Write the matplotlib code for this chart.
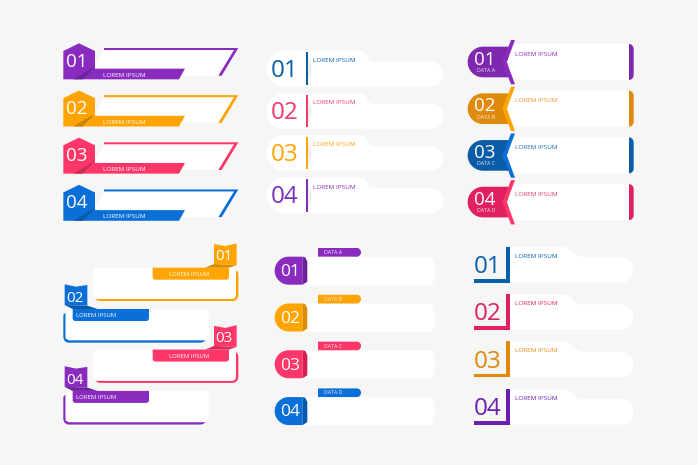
import matplotlib
matplotlib.use('Agg')
import matplotlib.pyplot as plt
from matplotlib.path import Path
from matplotlib.patches import PathPatch

plt.rcParams['font.family'] = ['Open Sans', 'DejaVu Sans']

# dane
numery = ['01', '02', '03', '04']
napis = 'LOREM IPSUM'
dane = ['DATA A', 'DATA B', 'DATA C', 'DATA D']

kolory1 = ['#8A2BC0', '#FFA400', '#FF3768', '#0A70D8']
cienie1 = ['#6C2299', '#CC8300', '#CC2C53', '#0859AC']
kolory2 = ['#0A5FA8', '#F5386B', '#FFA400', '#7B2FBE']
kolory3a = ['#7D28AE', '#E08A0B', '#0A5CA6', '#E0205F']
kolory3b = ['#8A2BC0', '#FFA400', '#0A70D8', '#FF3768']
napisy3 = ['#8A2BC0', '#E8952A', '#1F6CB0', '#E8346E']
kolory4 = ['#FFA400', '#0A70D8', '#FF3768', '#8A2BC0']
cienie4 = ['#D98C00', '#0859AC', '#D92C58', '#6C2299']
kolory5 = ['#8A2BC0', '#FFA400', '#FF3768', '#0A70D8']
cienie5 = ['#6C2299', '#D98C00', '#D4204F', '#0859AC']
kolory6 = ['#0A5FA8', '#E0205F', '#E08A0B', '#6A1FB0']

fig = plt.figure(figsize=(6.98, 4.65), dpi=100, facecolor='#F6F6F6')
ax = fig.add_axes([0, 0, 1, 1])
ax.set_xlim(0, 698)
ax.set_ylim(465, 0)
ax.axis('off')


# ksztalt ze wspolrzednych z powiekszenia (3x), krok z 4 liczbami to luk
def ksztalt(ox, oy, kroki, kolor, z=2):
    verts, codes = [], []
    for k in kroki:
        pts = [(ox + k[i] / 3, oy + k[i + 1] / 3) for i in range(0, len(k), 2)]
        if not verts:
            codes.append(Path.MOVETO)
            verts += pts
        elif len(pts) == 2:
            p0, c, p1 = verts[-1], pts[0], pts[1]
            verts.append((p0[0] + 0.55 * (c[0] - p0[0]), p0[1] + 0.55 * (c[1] - p0[1])))
            verts.append((p1[0] + 0.55 * (c[0] - p1[0]), p1[1] + 0.55 * (c[1] - p1[1])))
            verts.append(p1)
            codes += [Path.CURVE4] * 3
        else:
            codes.append(Path.LINETO)
            verts += pts
    verts.append(verts[0])
    codes.append(Path.CLOSEPOLY)
    ax.add_patch(PathPatch(Path(verts, codes), fc=kolor, ec='none', zorder=z))


def tekst(ox, oy, x, y, s, rozmiar, kolor, ha='center', z=6):
    ax.text(ox + x / 3, oy + y / 3, s, fontsize=rozmiar, color=kolor, ha=ha,
            va='center_baseline', zorder=z)


# panel 1 - szesciokaty
for i in range(4):
    ox, oy = 50, 35 + i * 47.15
    ksztalt(ox, oy, [(165, 45), (552, 45), (505, 122), (395, 122), (405, 101), (130, 101)], 'white')
    ksztalt(ox, oy, [(162, 39), (565, 39), (515, 122), (505, 122), (552, 45), (162, 45)], kolory1[i])
    ksztalt(ox, oy, [(40, 48), (87, 25), (135, 48), (135, 101), (405, 101), (387, 133), (40, 133)], kolory1[i], 3)
    ksztalt(ox, oy, [(70, 133), (130, 97), (130, 101), (98, 133)], cienie1[i], 4)
    tekst(ox, oy, 81, 74, numery[i], 13.5, 'white')
    tekst(ox, oy, 223, 120, napis, 4.6, 'white')

# panel 2 - zaokraglone
for i in range(4):
    ox, oy = 255, 35 + i * 42.17
    ksztalt(ox, oy, [(88, 48), (318, 48), (332, 48, 336, 64), (340, 80, 352, 80), (527, 80),
                     (565, 80, 565, 117), (565, 155, 527, 155), (88, 155),
                     (35, 155, 35, 102), (35, 48, 88, 48)], 'white')
    ksztalt(ox, oy, [(160, 60), (170, 100), (160, 143)], '#EDEDED', 3)
    ksztalt(ox, oy, [(154, 52), (160, 52), (160, 150), (154, 150)], kolory2[i], 4)
    tekst(ox, oy, 90, 98, numery[i], 17.5, kolory2[i])
    tekst(ox, oy, 173, 75, napis, 4.6, kolory2[i], ha='left')

# panel 3 - szewrony
for i in range(4):
    ox, oy = 455, 35 + i * 46.7
    ksztalt(ox, oy, [(84, 35), (160, 35), (160, 127), (84, 127), (38, 127, 38, 81), (38, 35, 84, 35)], kolory3a[i])
    ksztalt(ox, oy, [(168, 15), (180, 15), (155, 81), (180, 148), (168, 148), (142, 81)], kolory3b[i], 3)
    ksztalt(ox, oy, [(178, 27), (520, 27), (535, 27, 535, 42), (535, 120), (535, 135, 520, 135), (178, 135), (155, 81)], 'white')
    ksztalt(ox, oy, [(522, 27), (536, 27, 536, 42), (536, 120), (536, 135, 522, 135)], kolory3a[i], 3)
    tekst(ox, oy, 90, 68, numery[i], 13.5, 'white')
    tekst(ox, oy, 93, 105, dane[i], 3.8, '#F2E6F5')
    tekst(ox, oy, 179, 56, napis, 4.6, napisy3[i], ha='left')

# panel 4 - chorazki, na zmiane z prawej i z lewej
for i in range(4):
    ox, oy = 50, 235 + (i // 2) * 81.9
    if i % 2 == 0:
        ksztalt(ox, oy, [(140, 110), (555, 105), (565, 105, 565, 120), (565, 180), (565, 198, 548, 198), (150, 198), (140, 198, 136, 190)], kolory4[i])
        ksztalt(ox, oy, [(142, 98), (546, 98), (558, 98, 558, 110), (558, 180), (558, 192, 546, 192), (142, 192), (130, 192, 130, 180), (130, 110), (130, 98, 142, 98)], 'white', 3)
        ksztalt(ox, oy, [(308, 98), (537, 98), (537, 126), (537, 134, 529, 134), (316, 134), (308, 134, 308, 126)], kolory4[i], 4)
        ksztalt(ox, oy, [(465, 98), (492, 87), (560, 90), (537, 98)], cienie4[i], 5)
        ksztalt(ox, oy, [(492, 27), (526, 33), (560, 25), (560, 90), (492, 87)], kolory4[i], 5)
        tekst(ox, oy, 522, 59, numery[i], 11, 'white')
        tekst(ox, oy, 416, 116, napis, 4.3, 'white')
    else:
        ksztalt(ox, oy, [(47, 232), (40, 240), (40, 306), (40, 323, 56, 323), (450, 323), (466, 323, 468, 312), (47, 312)], kolory4[i])
        ksztalt(ox, oy, [(59, 222), (464, 222), (476, 222, 476, 234), (476, 304), (476, 316, 464, 316), (59, 316), (47, 316, 47, 304), (47, 234), (47, 222, 59, 222)], 'white', 3)
        ksztalt(ox, oy, [(68, 222), (297, 222), (297, 250), (297, 258, 289, 258), (76, 258), (68, 258, 68, 250)], kolory4[i], 4)
        ksztalt(ox, oy, [(44, 210), (112, 212), (142, 222), (68, 222)], cienie4[i], 5)
        ksztalt(ox, oy, [(44, 148), (78, 155), (112, 150), (112, 212), (44, 210)], kolory4[i], 5)
        tekst(ox, oy, 76, 185, numery[i], 11, 'white')
        tekst(ox, oy, 138, 240, napis, 4.3, 'white')

# panel 5 - etykiety DATA
for i in range(4):
    ox, oy = 262, 240 + i * 46.8
    ksztalt(ox, oy, [(130, 50), (510, 50), (528, 92, 510, 135), (130, 135)], 'white')
    ksztalt(ox, oy, [(80, 50), (122, 50), (122, 134), (80, 134), (38, 134, 38, 92), (38, 50, 80, 50)], kolory5[i], 3)
    ksztalt(ox, oy, [(122, 50), (130, 52), (136, 65), (136, 125), (122, 134)], cienie5[i], 3)
    ksztalt(ox, oy, [(168, 24), (285, 24), (297, 24, 297, 37), (297, 50, 285, 50), (168, 50)], kolory5[i], 3)
    tekst(ox, oy, 83, 90, numery[i], 12.5, 'white')
    tekst(ox, oy, 186, 36, dane[i], 3.8, '#F5E9F8', ha='left')

# panel 6 - narozniki
for i in range(4):
    ox, oy = 460, 240 + i * 47.35
    ksztalt(ox, oy, [(149, 20), (305, 20), (325, 20, 338, 36), (350, 51, 370, 51), (483, 51),
                     (521, 51, 521, 90), (521, 128, 483, 128), (149, 128)], 'white')
    ksztalt(ox, oy, [(139, 20), (149, 20), (149, 128), (43, 128), (43, 117), (139, 117)], kolory6[i], 3)
    tekst(ox, oy, 82, 72, numery[i], 17.5, kolory6[i])
    tekst(ox, oy, 164, 47, napis, 4.6, kolory6[i], ha='left')

fig.savefig('out.png', dpi=100, facecolor=fig.get_facecolor())
